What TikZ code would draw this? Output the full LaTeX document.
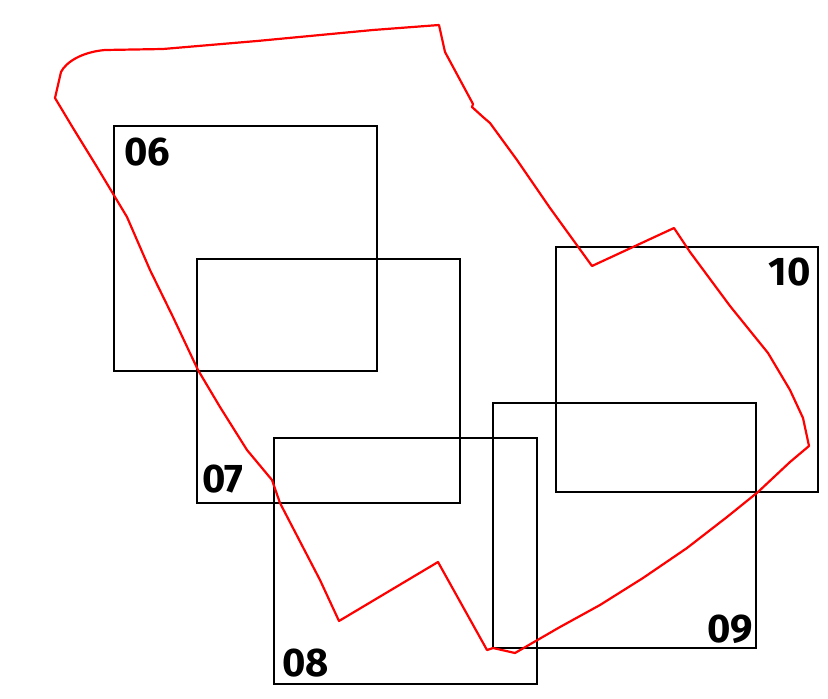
\documentclass[tikz,border=0pt]{standalone}
\usepackage{fontspec}
\setsansfont{Fira Sans}
\usetikzlibrary{calc}

\begin{document}
\begin{tikzpicture}
    [x=1pt, y=-1pt,
    sheet/.style ={draw = black, line width = 2.8pt},
    boundary/.style ={draw = red, line width = 2.2pt, line join = round},
    every node/.style ={inner sep = 0pt, font = \sffamily\bfseries\fontsize{40}{40}\selectfont}
    ]
    \useasboundingbox (0,0) rectangle (828,699);
    \draw [sheet] (114,126) rectangle (377,371);
    \draw [sheet] (197,259) rectangle (460,503);
    \draw [sheet] (274,438) rectangle (537,684);
    \draw [sheet] (493,403) rectangle (756,648);
    \draw [sheet] (556,247) rectangle (818,492);
    \node (sheet06) [anchor = north west] at (124,138) {06};
    \node (sheet07) [anchor = south west] at (202,493) {07};
    \node (sheet08) [anchor = south west] at (282,677) {08};
    \node (sheet09) [anchor = south east] at (753,644) {09};
    \node (sheet10) [anchor = north east] at (811,258) {10};
    \draw [boundary] (55,98) -- (61,72) .. controls (66,62) and (82,52) .. (105,50)
        -- (163,49) -- (257,41) -- (373,30) -- (439,25) -- (445,52) -- (473,104)
        -- (472,107) -- (483,117) -- (490,123) -- (517,160) -- (550,208) -- (592,266)
        -- (674,228) -- (690,252) -- (730,306) -- (768,353) -- (790,390) -- (803,418)
        -- (809,446) -- (790,462) -- (758,492) -- (727,517) -- (687,548) -- (643,578)
        -- (600,605) -- (560,627) -- (515,653) -- (493,648) -- (487,650) -- (438,562)
        -- (339,621) -- (320,580) -- (280,503) -- (272,480) -- (247,450) -- (220,407)
        -- (198,370) -- (173,317) -- (150,270) -- (127,217) -- (115,197) -- (97,167)
        -- (73,128) -- cycle;
\end{tikzpicture}
\end{document}
